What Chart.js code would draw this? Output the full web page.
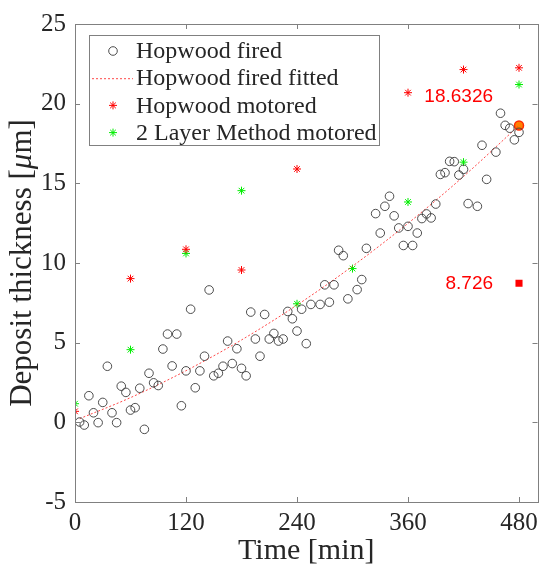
<!DOCTYPE html>
<html>
<head>
<meta charset="utf-8">
<script src="https://cdn.jsdelivr.net/npm/chart.js@4.4.0/dist/chart.umd.min.js"></script>
<style>
  html, body { margin: 0; padding: 0; background: #fff; }
  #wrap { width: 544px; height: 573px; }
</style>
</head>
<body>
<div id="wrap"><canvas id="depositChart" width="544" height="573"></canvas></div>
<script>
// Hopwood fired measurements, one every 5 min
const firedTimes = [5, 10, 15, 20, 25, 30, 35, 40, 45, 50, 55, 60, 65, 70, 75, 80, 85, 90, 95, 100,
    105, 110, 115, 120, 125, 130, 135, 140, 145, 150, 155, 160, 165, 170, 175, 180, 185, 190, 195, 200,
    205, 210, 215, 220, 225, 230, 235, 240, 245, 250, 255, 265, 270, 275, 280, 285, 290, 295, 305, 310,
    315, 325, 330, 335, 340, 345, 350, 355, 360, 365, 370, 375, 380, 385, 390, 395, 400, 405, 410, 415,
    420, 425, 435, 440, 445, 455, 460, 465, 470, 475, 480];
const firedValues = [0.02, -0.17, 1.67, 0.6, -0.02, 1.25, 3.52, 0.6, -0.02, 2.27, 1.88, 0.77, 0.92, 2.14, -0.44, 3.08, 2.48, 2.31, 4.6, 5.54,
    3.54, 5.54, 1.04, 3.23, 7.1, 2.17, 3.23, 4.15, 8.31, 2.92, 3.08, 3.52, 5.1, 3.69, 4.62, 3.39, 2.92, 6.92, 5.23, 4.15,
    6.77, 5.23, 5.58, 5.1, 5.23, 6.96, 6.5, 5.73, 7.1, 4.94, 7.4, 7.4, 8.63, 7.54, 8.63, 10.8, 10.46, 7.75, 8.33, 8.96,
    10.92, 13.1, 11.88, 13.56, 14.19, 12.96, 12.2, 11.1, 12.3, 11.1, 11.88, 12.79, 13.08, 12.83, 13.7, 15.56, 15.67, 16.38, 16.36, 15.52,
    15.88, 13.73, 13.56, 17.39, 15.25, 16.96, 19.4, 18.64, 18.46, 17.73, 18.2];

// fitted curve
const fitTimes = [5, 60, 120, 180, 240, 300, 360, 420, 480];
const fitValues = [0.23, 1.55, 3.24, 5.17, 7.36, 9.8, 12.49, 15.43, 18.63];

const motoredTimes = [0, 60, 120, 180, 240, 360, 420, 480];
const motoredValues = [0.69, 9.02, 10.86, 9.56, 15.9, 20.69, 22.14, 22.25];

const layerTimes = [0, 60, 120, 180, 240, 300, 360, 420, 480];
const layerValues = [1.17, 4.56, 10.6, 14.54, 7.44, 9.65, 13.83, 16.33, 21.2];

const endTime = 480;
const fittedEnd = 18.6326;
const modelEnd = 8.726;

const xTicks = [0, 120, 240, 360, 480];
const yTicks = [-5, 0, 5, 10, 15, 20, 25];

const serif = "'Liberation Serif', 'Times New Roman', serif";
const sans = "'Liberation Sans', Arial, sans-serif";
const axisGray = '#808080';
const textColor = '#262626';

function toPoints(xs, ys) {
    return xs.map((x, i) => ({ x: x, y: ys[i] }));
}

const datasets = [
    {
        label: 'Hopwood fired',
        data: toPoints(firedTimes, firedValues),
        pointStyle: 'circle',
        pointRadius: 4.3,
        pointBorderWidth: 0.9,
        borderColor: '#3a3a3a',
        backgroundColor: 'rgba(0,0,0,0)',
        showLine: false
    },
    {
        label: 'Hopwood fired fitted',
        data: toPoints(fitTimes, fitValues),
        showLine: true,
        borderColor: 'rgba(255,40,40,0.85)',
        borderWidth: 1,
        borderDash: [2, 2],
        pointRadius: 0,
        cubicInterpolationMode: 'monotone'
    },
    {
        label: 'Hopwood motored',
        data: toPoints(motoredTimes, motoredValues),
        pointStyle: 'star',
        pointRadius: 4,
        pointBorderWidth: 1,
        borderColor: '#ff0000',
        backgroundColor: '#ff0000',
        showLine: false
    },
    {
        label: '2 Layer Method motored',
        data: toPoints(layerTimes, layerValues),
        pointStyle: 'star',
        pointRadius: 4,
        pointBorderWidth: 1,
        borderColor: '#00ee00',
        backgroundColor: '#00ee00',
        showLine: false
    },
    {
        label: 'fitted end',
        data: [{ x: endTime, y: fittedEnd }],
        pointStyle: 'circle',
        pointRadius: 4.5,
        pointBorderWidth: 1.5,
        borderColor: '#ff2a00',
        backgroundColor: '#ff8000',
        showLine: false
    },
    {
        label: 'model end',
        data: [{ x: endTime, y: modelEnd }],
        pointStyle: 'rect',
        pointRadius: 5,
        pointBorderWidth: 0,
        borderColor: '#ff0000',
        backgroundColor: '#ff0000',
        showLine: false
    }
];

// box round the axes with inward ticks on all four sides
const framePlugin = {
    id: 'frame',
    afterDraw(chart) {
        const { ctx, chartArea: a, scales } = chart;
        ctx.save();
        ctx.strokeStyle = axisGray;
        ctx.lineWidth = 1;
        ctx.strokeRect(Math.round(a.left) + 0.5, Math.round(a.top) + 0.5,
            Math.round(a.right - a.left), Math.round(a.bottom - a.top));
        ctx.beginPath();
        xTicks.forEach(v => {
            const x = Math.round(scales.x.getPixelForValue(v)) + 0.5;
            ctx.moveTo(x, a.bottom); ctx.lineTo(x, a.bottom - 5);
            ctx.moveTo(x, a.top); ctx.lineTo(x, a.top + 5);
        });
        yTicks.forEach(v => {
            const y = Math.round(scales.y.getPixelForValue(v)) + 0.5;
            ctx.moveTo(a.left, y); ctx.lineTo(a.left + 5, y);
            ctx.moveTo(a.right, y); ctx.lineTo(a.right - 5, y);
        });
        ctx.stroke();
        ctx.restore();
    }
};

const yTitlePlugin = {
    id: 'yTitle',
    afterDraw(chart) {
        const { ctx, chartArea: a } = chart;
        const parts = [
            { text: 'Deposit thickness [', style: '' },
            { text: 'μ', style: 'italic ' },
            { text: 'm]', style: '' }
        ];
        ctx.save();
        ctx.translate(23, (a.top + a.bottom) / 2);
        ctx.rotate(-Math.PI / 2);
        ctx.fillStyle = textColor;
        ctx.textBaseline = 'middle';
        let total = 0;
        parts.forEach(p => {
            ctx.font = p.style + '31px ' + serif;
            p.w = ctx.measureText(p.text).width;
            total += p.w;
        });
        let x = -total / 2;
        parts.forEach(p => {
            ctx.font = p.style + '31px ' + serif;
            ctx.fillText(p.text, x, 0);
            x += p.w;
        });
        ctx.restore();
    }
};

const valueLabelPlugin = {
    id: 'valueLabels',
    afterDatasetsDraw(chart) {
        const { ctx, scales } = chart;
        const x = scales.x.getPixelForValue(endTime) - 26;
        ctx.save();
        ctx.fillStyle = '#ff0000';
        ctx.font = '19px ' + sans;
        ctx.textAlign = 'right';
        ctx.textBaseline = 'middle';
        ctx.fillText(String(fittedEnd), x, scales.y.getPixelForValue(fittedEnd) - 29);
        ctx.fillText(String(modelEnd), x, scales.y.getPixelForValue(modelEnd));
        ctx.restore();
    }
};

function drawMarker(ctx, ds, x, y) {
    ctx.strokeStyle = ds.borderColor;
    ctx.fillStyle = ds.backgroundColor;
    ctx.lineWidth = ds.pointBorderWidth;
    Chart.helpers.drawPoint(ctx, { pointStyle: ds.pointStyle, radius: ds.pointRadius, borderWidth: ds.pointBorderWidth }, x, y);
}

const legendPlugin = {
    id: 'legendBox',
    afterDraw(chart) {
        const { ctx, chartArea: a } = chart;
        const left = a.left + 14, top = a.top + 11, right = 379, bottom = 145;
        ctx.save();
        ctx.fillStyle = '#fff';
        ctx.fillRect(left, top, right - left, bottom - top);
        ctx.strokeStyle = axisGray;
        ctx.lineWidth = 1;
        ctx.strokeRect(Math.round(left) + 0.5, Math.round(top) + 0.5, Math.round(right - left), Math.round(bottom - top));
        for (let i = 0; i < 4; i++) {
            const ds = chart.data.datasets[i];
            const y = top + 16 + i * 27.2;
            if (ds.showLine) {
                ctx.strokeStyle = ds.borderColor;
                ctx.lineWidth = ds.borderWidth;
                ctx.setLineDash(ds.borderDash);
                ctx.beginPath();
                ctx.moveTo(left + 3, y + 0.5);
                ctx.lineTo(left + 44, y + 0.5);
                ctx.stroke();
                ctx.setLineDash([]);
            } else {
                drawMarker(ctx, ds, left + 24, y);
            }
            ctx.fillStyle = textColor;
            ctx.font = '24px ' + serif;
            ctx.textBaseline = 'middle';
            ctx.fillText(ds.label, left + 47, y + 1);
        }
        ctx.restore();
    }
};

new Chart(document.getElementById('depositChart'), {
    type: 'scatter',
    data: { datasets },
    options: {
        responsive: false,
        animation: false,
        devicePixelRatio: 1,
        layout: { padding: { top: 22, right: 3, left: 0, bottom: 0 } },
        plugins: {
            legend: { display: false },
            tooltip: { enabled: false }
        },
        scales: {
            x: {
                type: 'linear',
                min: 0,
                max: 500,
                afterBuildTicks: s => { s.ticks = xTicks.map(v => ({ value: v })); },
                afterFit: s => { s.height = 71; },
                grid: { display: false, drawTicks: false },
                border: { display: false },
                ticks: {
                    font: { family: serif, size: 25 },
                    color: textColor,
                    padding: 6,
                    maxRotation: 0,
                    autoSkip: false
                },
                title: {
                    display: true,
                    text: 'Time [min]',
                    font: { family: serif, size: 30 },
                    color: textColor,
                    padding: { top: 0, bottom: 4 }
                }
            },
            y: {
                type: 'linear',
                min: -5,
                max: 25,
                afterBuildTicks: s => { s.ticks = yTicks.map(v => ({ value: v })); },
                afterFit: s => { s.width = 75; },
                grid: { display: false, drawTicks: false },
                border: { display: false },
                ticks: {
                    font: { family: serif, size: 25 },
                    color: textColor,
                    padding: 9
                }
            }
        }
    },
    plugins: [framePlugin, valueLabelPlugin, legendPlugin, yTitlePlugin]
});
</script>
</body>
</html>
